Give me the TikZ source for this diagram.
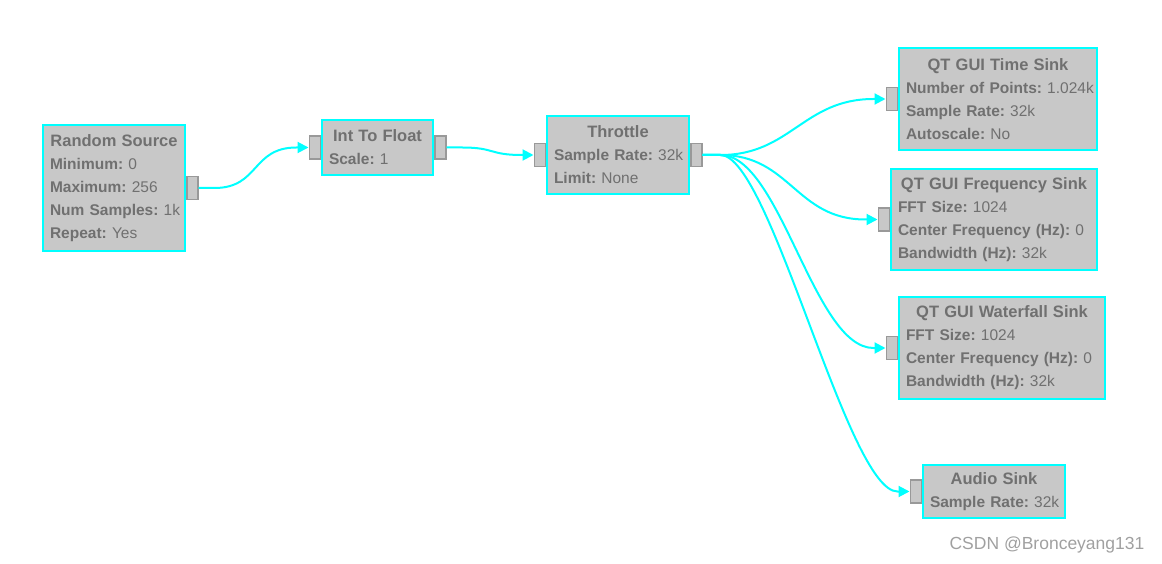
\documentclass[tikz,border=0pt]{standalone}
\usepackage{fontspec}
\setmainfont{Liberation Sans}
\usepackage{xcolor}
\definecolor{grcCyan}{HTML}{00FFFF}
\definecolor{grcFill}{HTML}{C8C8C8}
\definecolor{grcText}{HTML}{707070}
\definecolor{grcPort}{HTML}{999999}
\definecolor{grcMark}{HTML}{A0A0A0}
\usetikzlibrary{arrows.meta, positioning}
\frenchspacing

\newcommand{\blocktitle}[1]{\makebox[\hsize]{\fontsize{16.5}{23}\selectfont\bfseries #1}}
\newcommand{\grcparam}[2]{\mbox{\textbf{#1:} #2}}

\begin{document}
\begin{tikzpicture}[
    x=1pt, y=-1pt,
    blockbox/.style={draw=grcCyan, fill=grcFill, line width=2pt, rectangle, anchor=north west, align=left, inner xsep=7pt, inner ysep=3pt, text=grcText, font=\fontsize{15.5}{23}\selectfont},
    portbox/.style={draw=grcPort, fill=grcFill, line width=1.5pt, rectangle, minimum width=11pt, minimum height=23pt, inner sep=0pt},
    wire/.style={draw=grcCyan, line width=2pt},
    arrow/.style={wire, -{Triangle[length=11pt, width=11pt]}}
]
\useasboundingbox (0,0) rectangle (1162,564);

% blocks
\node (rs) [blockbox, text width=128pt, minimum height=126pt] at (42,124) {\blocktitle{Random Source}\\\grcparam{Minimum}{0}\\\grcparam{Maximum}{256}\\\grcparam{Num Samples}{1k}\\\grcparam{Repeat}{Yes}};
\node (itf) [blockbox, text width=97pt, minimum height=55pt] at (321,119) {\blocktitle{Int To Float}\\\grcparam{Scale}{1}};
\node (th) [blockbox, text width=128pt, minimum height=78pt] at (546,115) {\blocktitle{Throttle}\\\grcparam{Sample Rate}{32k}\\\grcparam{Limit}{None}};
\node (time) [blockbox, text width=184pt, minimum height=102pt] at (898,47) {\blocktitle{QT GUI Time Sink}\\\grcparam{Number of Points}{1.024k}\\\grcparam{Sample Rate}{32k}\\\grcparam{Autoscale}{No}};
\node (freq) [blockbox, text width=192pt, minimum height=101pt] at (890,168) {\blocktitle{QT GUI Frequency Sink}\\\grcparam{FFT Size}{1024}\\\grcparam{Center Frequency (Hz)}{0}\\\grcparam{Bandwidth (Hz)}{32k}};
\node (wf) [blockbox, text width=192pt, minimum height=102pt] at (898,296) {\blocktitle{QT GUI Waterfall Sink}\\\grcparam{FFT Size}{1024}\\\grcparam{Center Frequency (Hz)}{0}\\\grcparam{Bandwidth (Hz)}{32k}};
\node (audio) [blockbox, text width=128pt, minimum height=53pt] at (922,464) {\blocktitle{Audio Sink}\\\grcparam{Sample Rate}{32k}};

% ports
\node (rs-out) [portbox, right=0pt of rs] {};
\node (itf-in) [portbox, left=0pt of itf] {};
\node (itf-out) [portbox, right=0pt of itf] {};
\node (th-in) [portbox, left=0pt of th] {};
\node (th-out) [portbox, right=0pt of th] {};
\node (time-in) [portbox, left=0pt of time] {};
\node (freq-in) [portbox, left=0pt of freq] {};
\node (wf-in) [portbox, left=0pt of wf] {};
\node (audio-in) [portbox, left=0pt of audio] {};

% connections
\draw[arrow] (rs-out.east) -- ++(16,0) .. controls +(45,0) and +(-45,0) .. ([xshift=-12pt]itf-in.west) -- (itf-in.west);
\draw[arrow] (itf-out.east) -- ++(16,0) .. controls +(32,0) and +(-32,0) .. ([xshift=-12pt]th-in.west) -- (th-in.west);
\draw[arrow] (th-out.east) -- ++(18,0) .. controls +(70,0) and +(-70,0) .. ([xshift=-12pt]time-in.west) -- (time-in.west);
\draw[arrow] (th-out.east) -- ++(18,0) .. controls +(70,0) and +(-70,0) .. ([xshift=-12pt]freq-in.west) -- (freq-in.west);
\draw[arrow] (th-out.east) -- ++(18,0) .. controls +(60,0) and +(-60,0) .. ([xshift=-12pt]wf-in.west) -- (wf-in.west);
\draw[arrow] (th-out.east) -- ++(18,0) .. controls +(50,0) and +(-50,0) .. ([xshift=-12pt]audio-in.west) -- (audio-in.west);

\node (csdn) [text=grcMark, font=\fontsize{17.5}{20}\selectfont] at (1047,545) {CSDN @Bronceyang131};
\end{tikzpicture}
\end{document}
